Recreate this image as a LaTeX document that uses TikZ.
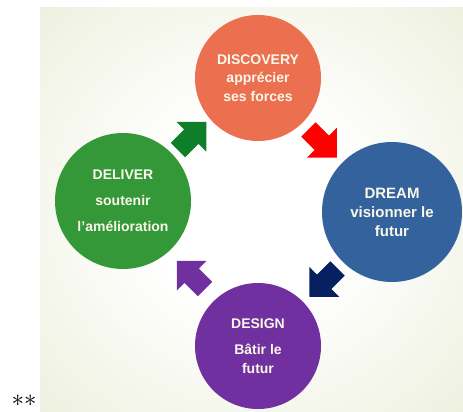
\documentclass[tikz,border=0pt]{standalone}
\usepackage{fontspec}
\setmainfont{Liberation Sans}
\usetikzlibrary{calc,shapes.arrows}

\definecolor{panelbg}{RGB}{230,235,210}
\definecolor{discov}{RGB}{236,112,80}
\definecolor{dreamc}{RGB}{52,98,156}
\definecolor{deliv}{RGB}{52,152,56}
\definecolor{desig}{RGB}{112,48,160}
\definecolor{arrgreen}{RGB}{14,126,40}
\definecolor{arrnavy}{RGB}{6,32,96}
\definecolor{labeltxt}{RGB}{250,247,235}

\pgfdeclareradialshading{panelshade}{\pgfpoint{0bp}{0bp}}{%
  color(0bp)=(white); color(12bp)=(white); color(45bp)=(panelbg); color(50bp)=(panelbg)}

\tikzset{
  phase/.style={circle, inner sep=0pt, text=labeltxt, align=center,
    font=\bfseries\fontsize{14}{18}\selectfont},
  blockarrow/.style={single arrow, draw=none, inner sep=10pt,
    minimum height=40pt, minimum width=42pt, single arrow head extend=11pt}
}

\begin{document}
\begin{tikzpicture}[x=1pt,y=1pt]
\useasboundingbox (0,0) rectangle (463,-412);

% fond
\shade[shading=panelshade] (40,-8) rectangle (463,-412);

% les quatre phases
\node[phase, fill=discov, minimum size=126pt] (disc) at (258,-78)
  {DISCOVERY\\[0.5pt]appr\'ecier\\[0.5pt]ses forces};
\node[phase, fill=dreamc, minimum size=140pt, font=\bfseries\fontsize{15}{19}\selectfont] (dream) at (392,-212)
  {DREAM\\visionner le\\futur};
\node[phase, fill=desig, minimum size=126pt] (design) at (258,-346)
  {DESIGN\\[8pt]B\^atir le\\[1pt]futur};
\node[phase, fill=deliv, minimum size=136pt] (deliver) at (123,-201)
  {DELIVER\\[8pt]soutenir\\[8pt]l’am\'elioration};

% fleches
\node[blockarrow, fill=red, rotate=-45] (a1) at ($(disc)!0.5!(dream)+(-6,5)$) {};
\node[blockarrow, fill=arrnavy, rotate=-135] (a2) at ($(dream)!0.5!(design)+(2,0)$) {};
\node[blockarrow, fill=desig, rotate=135] (a3) at ($(design)!0.5!(deliver)+(4,-5)$) {};
\node[blockarrow, fill=arrgreen, rotate=45] (a4) at ($(deliver)!0.5!(disc)+(-2,0)$) {};

\node[font=\fontsize{30}{30}\selectfont, inner sep=0pt] (stars) at (24,-401) {$\mathord{\ast}\mathord{\ast}$};
\end{tikzpicture}
\end{document}
